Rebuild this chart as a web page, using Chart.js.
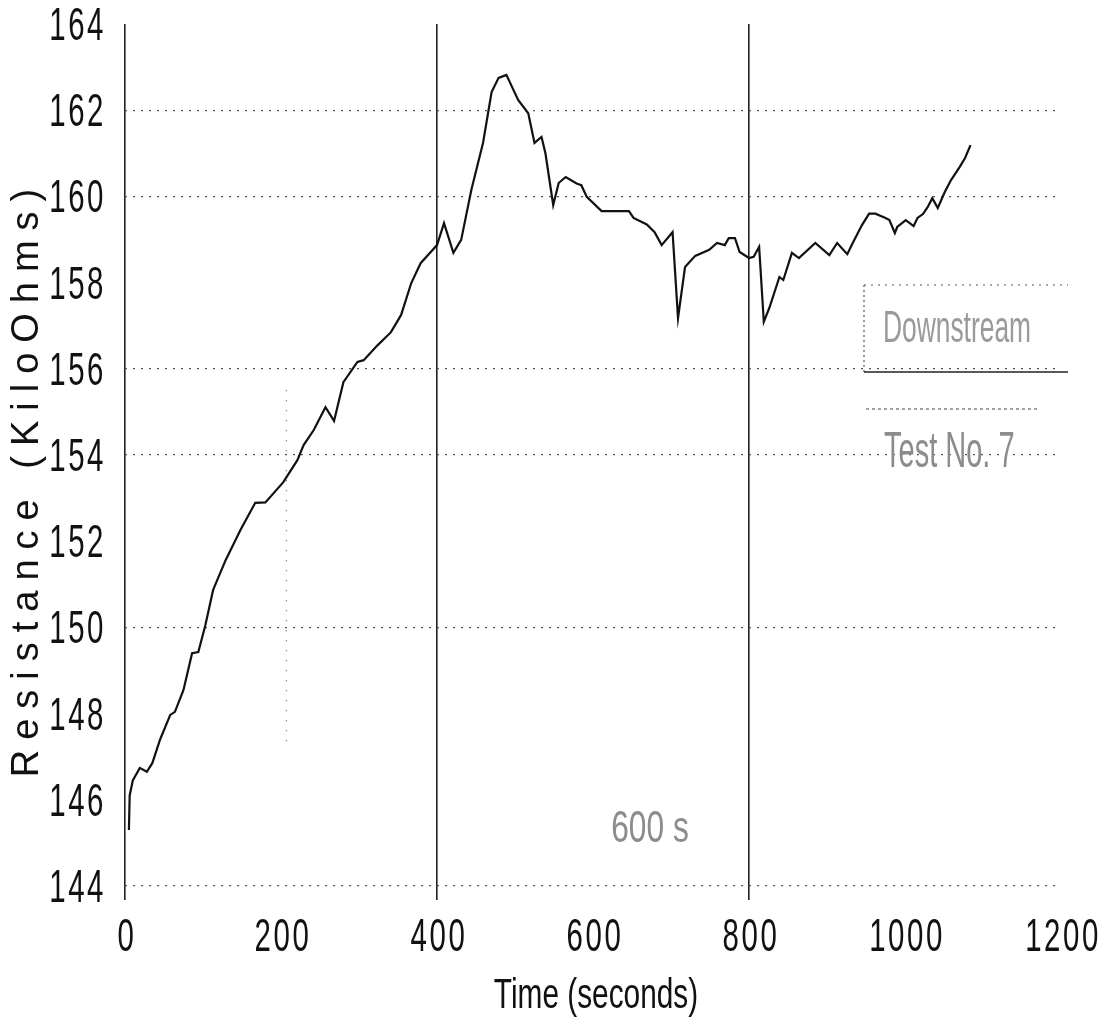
<!DOCTYPE html>
<html>
<head>
<meta charset="utf-8">
<title>Resistance vs Time</title>
<script src="https://cdn.jsdelivr.net/npm/chart.js@4.4.1/dist/chart.umd.min.js"></script>
<style>
  body { margin: 0; background: #fff; }
  canvas { display: block; }
</style>
</head>
<body>
<canvas id="chart" width="1113" height="1022"></canvas>
<script>
// sample times (s) and measured resistance (kOhm)
const timeSec = [5, 6, 10, 19, 28, 35, 45, 58, 64, 75, 86, 94, 103, 113, 129, 148, 167, 180, 203, 221,
  229, 242, 257, 268, 280, 298, 306, 324, 341, 354, 367, 379, 392, 400, 409, 421, 431, 444, 459, 470,
  479, 489, 504, 517, 525, 534, 539, 549, 556, 565, 579, 585, 592, 611, 646, 652, 669, 679, 688, 702,
  709, 718, 731, 749, 759, 769, 774, 782, 788, 800, 806, 813, 819, 826, 839, 844, 855, 864, 885, 903,
  913, 926, 933, 945, 954, 962, 975, 980, 987, 990, 1001, 1011, 1016, 1023, 1029, 1035, 1042, 1051,
  1059, 1070, 1077, 1084];
const resistance = [145.3, 146.1, 146.45, 146.74, 146.65, 146.85, 147.4, 147.97, 148.04, 148.55, 149.4,
  149.43, 150.05, 150.87, 151.56, 152.26, 152.89, 152.9, 153.37, 153.88, 154.23, 154.58, 155.11, 154.79,
  155.69, 156.16, 156.2, 156.55, 156.85, 157.25, 157.99, 158.45, 158.71, 158.87, 159.38, 158.69, 158.99,
  160.15, 161.24, 162.42, 162.75, 162.82, 162.24, 161.93, 161.24, 161.38, 161.0, 159.8, 160.31, 160.45,
  160.3, 160.26, 159.99, 159.66, 159.66, 159.5, 159.35, 159.17, 158.87, 159.17, 157.18, 158.36, 158.62,
  158.76, 158.92, 158.87, 159.03, 159.03, 158.71, 158.57, 158.6, 158.83, 157.09, 157.41, 158.13, 158.06,
  158.69, 158.57, 158.92, 158.64, 158.92, 158.66, 158.92, 159.34, 159.6, 159.6, 159.5, 159.45, 159.15,
  159.29, 159.45, 159.31, 159.5, 159.59, 159.75, 159.96, 159.73, 160.1, 160.38, 160.68, 160.89, 161.19];

const xRange = [0, 1200];
const yRange = [144, 164];
const xStep = 200;
const yStep = 2;
const xGridAt = [0, 400, 800];                  // solid verticals
const yGridAt = [144, 150, 154, 156, 160, 162]; // dotted horizontals

const legendLabel = "Downstream";
const testLabel = "Test No. 7";
const markerLabel = "600 s";

const sans = "'Liberation Sans', Arial, sans-serif";

// the plotter font is tall and very narrow, so squeeze a normal sans horizontally
function squeezed(ctx, text, x, y, size, sx, color, align, spacing) {
  ctx.save();
  ctx.font = size + "px " + sans;
  ctx.letterSpacing = (spacing || 0) + "px";
  ctx.fillStyle = color;
  ctx.textAlign = align || "center";
  ctx.textBaseline = "alphabetic";
  ctx.translate(x, y);
  ctx.scale(sx, 1);
  ctx.fillText(text, 0, 0);
  ctx.restore();
}

function dotted(ctx, x1, y1, x2, y2, dash, color, w) {
  ctx.save();
  ctx.strokeStyle = color;
  ctx.lineWidth = w || 1;
  ctx.setLineDash(dash);
  ctx.beginPath();
  ctx.moveTo(x1, y1);
  ctx.lineTo(x2, y2);
  ctx.stroke();
  ctx.restore();
}

const extras = {
  id: "extras",
  afterDraw(chart) {
    const ctx = chart.ctx;
    const xs = chart.scales.x, ys = chart.scales.y;

    // tick labels at the scales' own tick positions
    xs.ticks.forEach(t => {
      squeezed(ctx, String(t.value), xs.getPixelForValue(t.value) + 2, 951, 46, 0.64, "#111", "center", 4);
    });
    ys.ticks.forEach(t => {
      squeezed(ctx, String(t.value), 106, ys.getPixelForValue(t.value) + 16, 46, 0.64, "#111", "right", 4);
    });

    // faint dotted trace near t = 200
    const xTrace = xs.getPixelForValue(207);
    dotted(ctx, xTrace, ys.getPixelForValue(155.5), xTrace, ys.getPixelForValue(147.2), [1, 9], "#666", 1.2);

    // y axis title, spaced letters
    ctx.save();
    ctx.translate(28, 483);
    ctx.rotate(-Math.PI / 2);
    ctx.font = "38px " + sans;
    ctx.letterSpacing = "10px";
    ctx.fillStyle = "#111";
    ctx.textAlign = "center";
    ctx.textBaseline = "middle";
    ctx.fillText("Resistance (KiloOhms)", 5, 0);
    ctx.restore();

    // x axis title
    squeezed(ctx, "Time (seconds)", 596, 1008, 42, 0.71, "#111");

    // marker note
    squeezed(ctx, markerLabel, 650, 842, 44, 0.72, "#8c8c8c");

    // legend box: dotted top and left, solid bottom
    dotted(ctx, 864, 285, 1068, 285, [2, 5], "#555", 1.2);
    dotted(ctx, 864, 285, 864, 372, [2, 3], "#555", 1.2);
    dotted(ctx, 864, 372, 1068, 372, [], "#222", 1.6);
    squeezed(ctx, legendLabel, 957, 342, 44, 0.6, "#9a9a9a");

    dotted(ctx, 866, 409, 1040, 409, [3, 3], "#666", 1.2);
    squeezed(ctx, testLabel, 884, 467, 50, 0.58, "#8c8c8c", "left");
  }
};

new Chart(document.getElementById("chart"), {
  type: "line",
  data: {
    datasets: [{
      data: timeSec.map((t, i) => ({ x: t, y: resistance[i] })),
      borderColor: "#111",
      borderWidth: 2.2,
      pointRadius: 0,
      tension: 0,
      fill: false
    }]
  },
  options: {
    responsive: false,
    animation: false,
    layout: { padding: { top: 24, right: 52, left: 0, bottom: 0 } },
    plugins: { legend: { display: false }, tooltip: { enabled: false } },
    scales: {
      x: {
        type: "linear",
        min: xRange[0],
        max: xRange[1],
        afterFit: s => { s.height = 136; },
        ticks: { stepSize: xStep, display: false },
        grid: {
          color: c => xGridAt.includes(c.tick.value) ? "#222" : "transparent",
          tickColor: c => xGridAt.includes(c.tick.value) ? "#222" : "transparent",
          lineWidth: 1.6,
          drawTicks: true,
          tickLength: 14
        },
        border: { display: false }
      },
      y: {
        min: yRange[0],
        max: yRange[1],
        afterFit: s => { s.width = 125; },
        ticks: { stepSize: yStep, display: false },
        grid: {
          color: c => yGridAt.includes(c.tick.value) ? "#555" : "transparent",
          lineWidth: 1.2,
          drawTicks: false
        },
        border: { display: false, dash: [2, 6] }
      }
    }
  },
  plugins: [extras]
});
</script>
</body>
</html>
